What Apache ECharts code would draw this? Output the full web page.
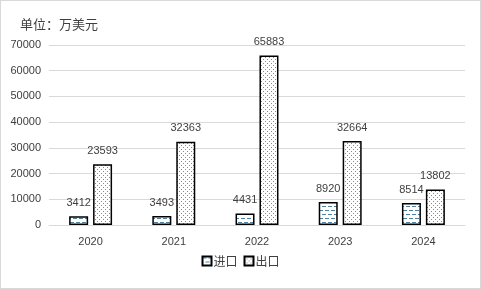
<!DOCTYPE html>
<html><head><meta charset="utf-8">
<script src="https://cdn.jsdelivr.net/npm/echarts@6/dist/echarts.min.js"></script>
<style>
html,body{margin:0;padding:0;background:#fff;}
#c{width:481px;height:289px;box-sizing:border-box;border:1px solid #d9d9d9;}
</style></head>
<body><div id="c"></div>
<script>
var years = ['2020','2021','2022','2023','2024'];
var imports = [3412, 3493, 4431, 8920, 8514];
var exports = [23593, 32363, 65883, 32664, 13802];
var yTicks = {min: 0, max: 70000, interval: 10000};
var unitTitle = '单位：万美元';
var seriesNames = ['进口', '出口'];

function dashPattern(){
  var c = document.createElement('canvas'); c.width = 6; c.height = 8;
  var g = c.getContext('2d');
  g.fillStyle = '#fff'; g.fillRect(0,0,6,8);
  g.fillStyle = '#4f809f';
  g.fillRect(0,1,4,1);
  g.fillRect(3,5,3,1); g.fillRect(0,5,1,1);
  return c;
}
function dotPattern(){
  var c = document.createElement('canvas'); c.width = 4; c.height = 4;
  var g = c.getContext('2d');
  g.fillStyle = '#fff'; g.fillRect(0,0,4,4);
  g.fillStyle = '#7d8b99';
  g.fillRect(0,0,1,1); g.fillRect(2,2,1,1);
  return c;
}

var chart = echarts.init(document.getElementById('c'), null, {renderer:'canvas'});
var font = '"Microsoft YaHei","Noto Sans CJK SC","Liberation Sans",sans-serif';
var numFont = '"Liberation Sans",sans-serif';
chart.setOption({
  animation: false,
  textStyle: {fontFamily: font},
  title: {text: unitTitle, left: 14, top: 12,
    textStyle: {fontSize: 13, fontWeight: 'normal', color: '#404040', fontFamily: font}},
  legend: {bottom: 16, left: 'center', itemWidth: 9, itemHeight: 9, itemGap: 6, icon: 'rect',
    textStyle: {fontSize: 12, color: '#404040', fontFamily: font, padding: [0,0,0,-3]},
    data: seriesNames},
  grid: {left: 48, right: 15, top: 44, bottom: 63, containLabel: false},
  xAxis: {type: 'category', data: years,
    axisLine: {lineStyle: {color: '#d9d9d9'}}, axisTick: {show: false},
    axisLabel: {color: '#404040', fontSize: 11, margin: 11, fontFamily: numFont}},
  yAxis: {type: 'value', min: yTicks.min, max: yTicks.max, interval: yTicks.interval,
    axisLine: {show: false}, axisTick: {show: false},
    splitLine: {lineStyle: {color: '#d9d9d9'}},
    axisLabel: {color: '#404040', fontSize: 11, margin: 8, fontFamily: numFont,
      formatter: function(v){ return String(v); }}},
  series: [
    {name: seriesNames[0], type: 'bar', data: imports, barWidth: 19, barGap: '26%',
      itemStyle: {color: {image: dashPattern(), repeat: 'repeat'}, borderColor: '#000', borderWidth: 1.5},
      label: {show: true, position: 'top', distance: 8, color: '#404040', fontSize: 11, fontFamily: numFont}},
    {name: seriesNames[1], type: 'bar', data: exports, barWidth: 19,
      itemStyle: {color: {image: dotPattern(), repeat: 'repeat'}, borderColor: '#000', borderWidth: 1.5},
      label: {show: true, position: 'top', distance: 8, color: '#404040', fontSize: 11, fontFamily: numFont}}
  ]
});
</script></body></html>
